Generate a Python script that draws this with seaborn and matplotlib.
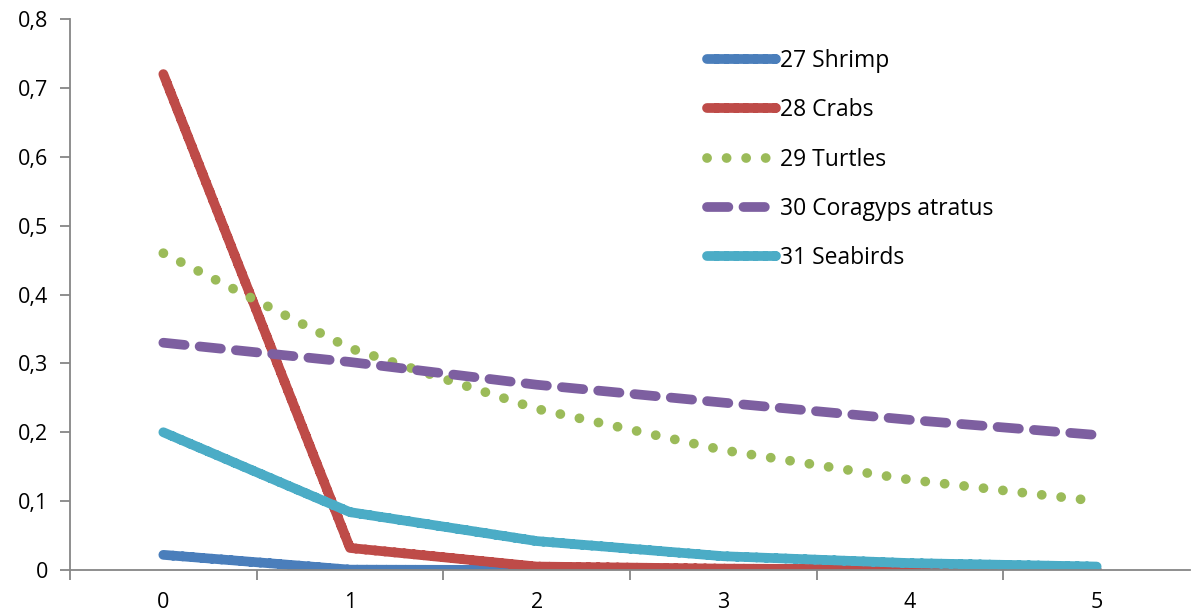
import matplotlib
matplotlib.use("Agg")
import matplotlib.pyplot as plt
import seaborn as sns
import pandas as pd

# Steps along the category axis
steps = [0, 1, 2, 3, 4, 5]

# Series values per step
shrimp = [0.022, 0.0005, 0.0, 0.0, 0.0, 0.0]
crabs = [0.72, 0.032, 0.005, 0.002, 0.001, 0.0005]
turtles = [0.46, 0.322, 0.234, 0.174, 0.131, 0.100]
coragyps = [0.330, 0.302, 0.269, 0.243, 0.218, 0.196]
seabirds = [0.200, 0.084, 0.042, 0.020, 0.010, 0.005]

series_names = ["27 Shrimp", "28 Crabs", "29 Turtles", "30 Coragyps atratus", "31 Seabirds"]
y_ticks = [0, 0.1, 0.2, 0.3, 0.4, 0.5, 0.6, 0.7, 0.8]
y_tick_labels = ["0", "0,1", "0,2", "0,3", "0,4", "0,5", "0,6", "0,7", "0,8"]

colors = ["#4A7EBB", "#BE4B48", "#9BBB59", "#7D5FA0", "#4BACC6"]
dashes = [(1, 0), (1, 0), (0.01, 2.0), (2.2, 1.55), (1, 0)]

df = pd.DataFrame({
    "step": steps * 5,
    "value": shrimp + crabs + turtles + coragyps + seabirds,
    "series": sum([[n] * len(steps) for n in series_names], []),
})

sns.set_style("white")
plt.rcParams["font.family"] = ["Open Sans", "DejaVu Sans"]
plt.rcParams["text.color"] = "black"
plt.rcParams["xtick.color"] = "black"
plt.rcParams["ytick.color"] = "black"

fig = plt.figure(figsize=(11.92, 6.13), dpi=100)
ax = fig.add_axes([70 / 1192, 1 - 570 / 613, 1120 / 1192, 551 / 613])

sns.lineplot(data=df, x="step", y="value", hue="series", style="series",
             palette=colors, dashes=dashes, linewidth=7, ax=ax,
             legend=True)
for line in ax.get_lines():
    line.set_solid_capstyle("round")
    line.set_dash_capstyle("round")
    line.set_solid_joinstyle("round")

ax.set_xlim(-0.5, 5.5)
ax.set_ylim(0, 0.8)
ax.set_yticks(y_ticks)
ax.set_yticklabels(y_tick_labels)
ax.set_xticks(steps)
ax.set_xticklabels([str(s) for s in steps])
ax.set_xticks([s + 0.5 for s in [-1] + steps[:-1]], minor=True)
ax.set_xlabel("")
ax.set_ylabel("")

for side in ["top", "right"]:
    ax.spines[side].set_visible(False)
for side in ["left", "bottom"]:
    ax.spines[side].set_color("#868686")
    ax.spines[side].set_linewidth(1.3)

ax.tick_params(axis="y", which="major", left=True, length=7, width=1.3,
               color="#868686", labelcolor="black", labelsize=15.5, pad=9)
ax.tick_params(axis="x", which="major", bottom=False, labelcolor="black",
               labelsize=15.5, pad=12)
ax.tick_params(axis="x", which="minor", bottom=True, length=7, width=1.3,
               color="#868686")

leg = ax.legend(loc="upper left", bbox_to_anchor=(628 / 1120, 1 - 21 / 551),
                frameon=False, fontsize=16.5, handlelength=3.0, handletextpad=0.2,
                labelspacing=1.1, borderaxespad=0)
for h in leg.get_lines():
    h.set_linewidth(7)
    h.set_solid_capstyle("round")
    h.set_dash_capstyle("round")
for t in leg.get_texts():
    t.set_color("black")

fig.savefig("out.png", dpi=100)
